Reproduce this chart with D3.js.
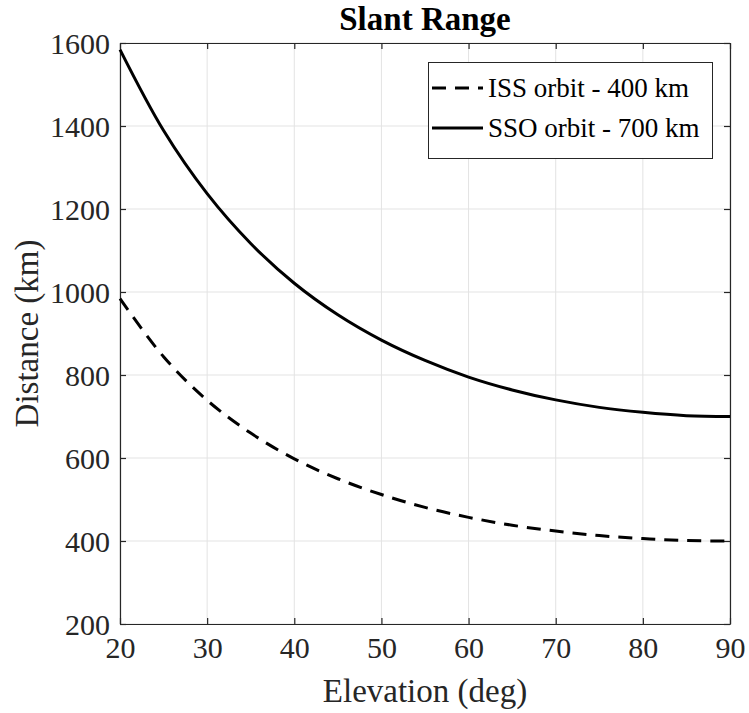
<!DOCTYPE html>
<html>
<head>
<meta charset="utf-8">
<script src="https://cdn.jsdelivr.net/npm/d3@7"></script>
<style>
  html, body { margin: 0; padding: 0; background: #fff; }
  svg { display: block; font-family: "Liberation Serif", "Times New Roman", serif; }
</style>
</head>
<body>
<svg id="chart" width="749" height="713"></svg>
<script>
// Elevation angles (deg) and slant range (km) for each orbit
const elevation = [20, 25, 30, 35, 40, 45, 50, 55, 60, 65, 70, 75, 80, 85, 90];
const issRange  = [984, 844, 739, 660, 598, 550, 512, 481, 457, 438, 424, 413, 406, 401, 400];
const ssoRange  = [1584, 1389, 1237, 1117, 1021, 945, 884, 835, 795, 764, 740, 722, 710, 702, 700];

const xTicks = [20, 30, 40, 50, 60, 70, 80, 90];
const yTicks = [200, 400, 600, 800, 1000, 1200, 1400, 1600];

const seriesNames = ["ISS orbit - 400 km", "SSO orbit - 700 km"];
const seriesDash  = ["14,9", null];

const margin = { left: 120, right: 19, top: 43, bottom: 89 };
const W = 749, H = 713;
const plotW = W - margin.left - margin.right;
const plotH = H - margin.top - margin.bottom;

const svg = d3.select("#chart");
const g = svg.append("g").attr("transform", `translate(${margin.left},${margin.top})`);

const x = d3.scaleLinear().domain([20, 90]).range([0, plotW]);
const y = d3.scaleLinear().domain([200, 1600]).range([plotH, 0]);

// grid
g.append("g").selectAll("line").data(xTicks).join("line")
  .attr("x1", d => x(d)).attr("x2", d => x(d))
  .attr("y1", 0).attr("y2", plotH)
  .attr("stroke", "#e3e3e3").attr("stroke-width", 1);
g.append("g").selectAll("line").data(yTicks).join("line")
  .attr("y1", d => y(d)).attr("y2", d => y(d))
  .attr("x1", 0).attr("x2", plotW)
  .attr("stroke", "#e3e3e3").attr("stroke-width", 1);

// axes (ticks point inward, box on all four sides)
const axisColor = "#262626";
const tickLen = 6;
const fmt = d3.format("d");
function styleAxis(sel) {
  sel.attr("font-family", "Liberation Serif, Times New Roman, serif");
  sel.select(".domain").attr("stroke", axisColor).attr("stroke-width", 1.2);
  sel.selectAll(".tick line").attr("stroke", axisColor).attr("stroke-width", 1.2);
  sel.selectAll(".tick text").attr("fill", axisColor).attr("font-size", 30);
}
const xAxis = g.append("g").attr("transform", `translate(0,${plotH})`)
  .call(d3.axisBottom(x).tickValues(xTicks).tickFormat(fmt).tickSize(-tickLen).tickSizeOuter(0));
styleAxis(xAxis);
xAxis.selectAll(".tick text").attr("y", 13).attr("dy", "0.71em");

const xAxisTop = g.append("g")
  .call(d3.axisTop(x).tickValues(xTicks).tickSize(-tickLen).tickSizeOuter(0).tickFormat(""));
styleAxis(xAxisTop);

const yAxis = g.append("g")
  .call(d3.axisLeft(y).tickValues(yTicks).tickFormat(fmt).tickSize(-tickLen).tickSizeOuter(0));
styleAxis(yAxis);
yAxis.selectAll(".tick text").attr("x", -10).attr("dy", "0.34em");

const yAxisRight = g.append("g").attr("transform", `translate(${plotW},0)`)
  .call(d3.axisRight(y).tickValues(yTicks).tickSize(-tickLen).tickSizeOuter(0).tickFormat(""));
styleAxis(yAxisRight);

// curves
const line = d3.line()
  .x((d, i) => x(elevation[i]))
  .y(d => y(d))
  .curve(d3.curveCatmullRom.alpha(0.5));

const series = [issRange, ssoRange];
series.forEach((vals, i) => {
  g.append("path")
    .datum(vals)
    .attr("d", line)
    .attr("fill", "none")
    .attr("stroke", "#000")
    .attr("stroke-width", 3)
    .attr("stroke-dasharray", seriesDash[i]);
});

// title and axis labels
svg.append("text")
  .attr("x", margin.left + plotW / 2).attr("y", 30)
  .attr("text-anchor", "middle")
  .attr("font-size", 33).attr("font-weight", "bold").attr("fill", "#000")
  .text("Slant Range");

svg.append("text")
  .attr("x", margin.left + plotW / 2).attr("y", 702)
  .attr("text-anchor", "middle")
  .attr("font-size", 33).attr("fill", axisColor)
  .text("Elevation (deg)");

svg.append("text")
  .attr("transform", `translate(38,${margin.top + plotH / 2}) rotate(-90)`)
  .attr("text-anchor", "middle")
  .attr("font-size", 33).attr("fill", axisColor)
  .text("Distance (km)");

// legend
const legend = svg.append("g");
legend.append("rect")
  .attr("x", 428.5).attr("y", 62.5).attr("width", 284).attr("height", 96)
  .attr("fill", "#fff").attr("stroke", axisColor).attr("stroke-width", 1);
seriesNames.forEach((name, i) => {
  const cy = 88 + i * 40;
  legend.append("line")
    .attr("x1", 432).attr("x2", 483).attr("y1", cy).attr("y2", cy)
    .attr("stroke", "#000").attr("stroke-width", 3)
    .attr("stroke-dasharray", seriesDash[i]);
  legend.append("text")
    .attr("x", 488).attr("y", cy).attr("dy", "0.34em")
    .attr("font-size", 27).attr("fill", "#000")
    .text(name);
});
</script>
</body>
</html>
